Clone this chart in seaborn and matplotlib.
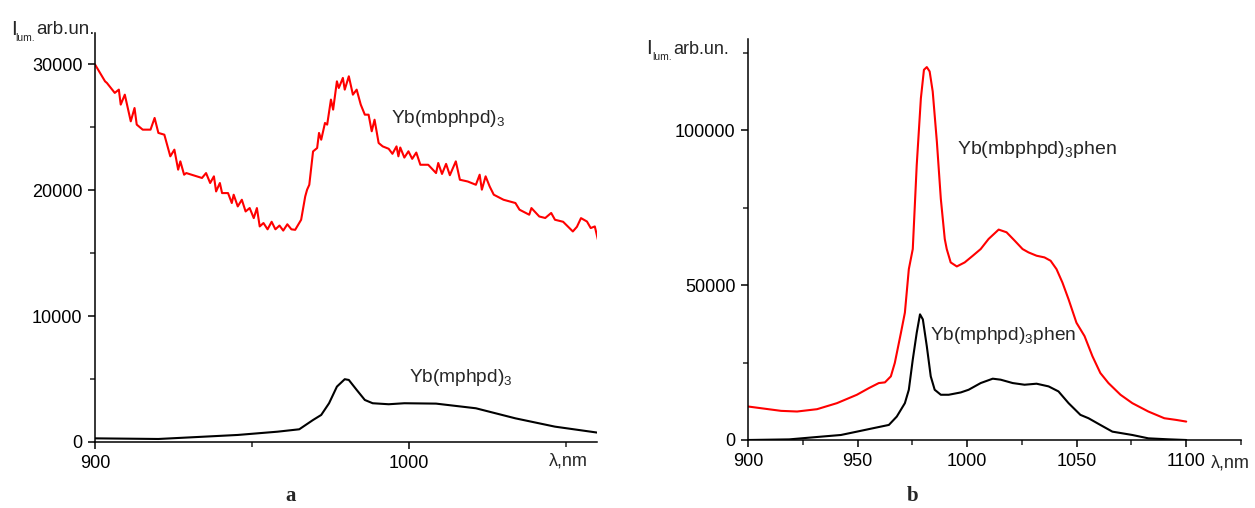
import numpy as np
import pandas as pd
import matplotlib
matplotlib.use("Agg")
import matplotlib.pyplot as plt
from matplotlib.ticker import FixedLocator
import seaborn as sns

# ---------------- data: panel a ----------------
a_red_nm = [900, 903.2, 903.8, 906.3, 907.6, 908.2, 909.5, 911.4, 912.6, 913.3, 915.2, 917.7, 919.0,
            920.2, 922.1, 924.0, 925.3, 926.5, 927.2, 928.4, 929.1, 934.1, 935.4, 936.7, 937.9, 938.6,
            939.8, 940.5, 942.4, 943.6, 944.2, 945.5, 946.8, 948.0, 949.3, 950.6, 951.6, 952.5, 953.7,
            955.0, 956.3, 957.5, 958.8, 960.0, 961.3, 962.6, 963.8, 965.7, 967.0, 967.6, 968.3, 969.5,
            970.8, 971.4, 972.1, 973.3, 974.0, 975.2, 975.9, 977.1, 977.7, 979.0, 979.6, 980.9, 982.2,
            983.4, 984.7, 986.0, 987.2, 988.2, 989.1, 990.4, 991.7, 993.6, 994.8, 996.1, 996.7, 997.3,
            998.6, 999.9, 1001.1, 1002.4, 1003.7, 1006.2, 1008.7, 1009.4, 1010.6, 1011.9, 1013.1, 1015.0,
            1016.3, 1018.8, 1021.4, 1022.6, 1023.3, 1024.5, 1025.8, 1027.1, 1030.2, 1034.0, 1035.3,
            1038.4, 1039.1, 1041.6, 1043.5, 1045.4, 1046.6, 1049.2, 1052.3, 1053.6, 1054.9, 1056.8,
            1058.0, 1059.3, 1060.3]
a_red_val = [30000, 28660, 28530, 27740, 28000, 26810, 27600, 25480, 26540, 25220, 24820, 24820, 25750,
             24560, 24420, 22700, 23230, 21640, 22300, 21240, 21370, 20980, 21370, 20580, 21110, 19910,
             20580, 19780, 19780, 18990, 19650, 18720, 19250, 18320, 18590, 17790, 18590, 17130, 17400,
             16900, 17500, 16900, 17200, 16800, 17300, 16900, 16860, 17660, 19510, 20050, 20440, 23090,
             23360, 24560, 24020, 25350, 25220, 27210, 26410, 28660, 28130, 28930, 28000, 29060, 27600,
             28000, 26810, 26010, 26010, 24690, 25610, 23760, 23490, 23300, 22900, 23490, 22700, 23400,
             22600, 23100, 22500, 23000, 22030, 22030, 21370, 22170, 21300, 22100, 21200, 22300,
             20840, 20700, 20440, 21240, 20050, 21110, 20300, 19650, 19250, 18990, 18460,
             18060, 18590, 17920, 17800, 18200, 17660, 17500, 16730, 17100, 17790, 17520,
             17000, 17130, 16070]

a_blk_nm = [900, 920.2, 932.9, 945.5, 958.2, 965.1, 969.5, 972.1, 974.6, 977.1, 979.6, 980.9, 983.4,
            986.0, 988.5, 993.6, 998.6, 1008.7, 1021.4, 1034.0, 1046.6, 1060.3]
a_blk_val = [290, 240, 400, 560, 820, 1010, 1750, 2150, 3080, 4400, 4990, 4930, 4140,
             3340, 3080, 3000, 3080, 3050, 2680, 1880, 1220, 740]

# ---------------- data: panel b ----------------
b_red_nm = [900, 915.1, 922.4, 931.5, 940.6, 949.7, 955.2, 959.7, 962.5, 965.2, 967.0, 969.8, 971.6,
            973.4, 975.2, 977.0, 978.9, 980.3, 981.6, 982.9, 984.3, 986.2, 988.0, 989.8, 990.7, 992.5,
            995.3, 998.9, 1002.6, 1006.2, 1009.8, 1014.4, 1018.0, 1021.7, 1025.3, 1028.0, 1031.7,
            1035.3, 1038.1, 1040.8, 1043.5, 1046.3, 1049.9, 1053.6, 1057.2, 1060.8, 1064.5, 1070.0,
            1075.4, 1082.7, 1090.0, 1095.4, 1100.0]
b_red_val = [10820, 9410, 9200, 9950, 11900, 14610, 16770, 18390, 18610, 20560, 24890, 34620, 41120,
             55180, 61670, 88720, 110360, 119560, 120430, 119020, 112530, 96300, 77900, 64920, 61670, 57350,
             56050, 57350, 59510, 61670, 64920, 67950, 67080, 64380, 61670, 60590, 59510,
             58970, 57890, 55180, 50850, 45440, 37870, 33540, 27050, 21640, 18390, 14610,
             11900, 9200, 7030, 6490, 5950]

b_blk_nm = [900, 918.8, 933.3, 942.4, 949.7, 957.0, 964.3, 967.9, 971.6, 973.4, 975.2, 977.0, 978.5,
            979.8, 981.6, 983.4, 985.2, 988.0, 991.6, 997.1, 1000.7, 1006.2, 1011.7, 1015.3, 1020.8,
            1026.2, 1031.7, 1037.2, 1041.7, 1046.3, 1051.7, 1055.4, 1060.8, 1066.3, 1075.4, 1082.7,
            1091.8, 1100.0]
b_blk_val = [0, 200, 1080, 1620, 2700, 3790, 4870, 7570, 11900, 16230, 25970, 34620, 40580,
             38950, 30300, 20560, 16230, 14610, 14610, 15360, 16230, 18390, 19800, 19480, 18390,
             17850, 18180, 17310, 15690, 11900, 8120, 7030, 4870, 2700, 1620, 540,
             220, 0]

a_xticks = [900, 1000]
a_xminor = [950, 1050]
a_yticks = [0, 10000, 20000, 30000]
a_yminor = [5000, 15000, 25000]
b_xticks = [900, 950, 1000, 1050, 1100]
b_xminor = [925, 975, 1025, 1075, 1125]
b_yticks = [0, 50000, 100000]
b_yminor = [25000, 75000, 125000]

# ---------------- style ----------------
sns.set_style("ticks")
plt.rcParams['font.family'] = ['Liberation Sans', 'DejaVu Sans']
plt.rcParams['mathtext.fontset'] = 'custom'
plt.rcParams['mathtext.rm'] = 'Liberation Sans'
plt.rcParams['mathtext.it'] = 'Liberation Sans'

W, H = 1255, 508
fig = plt.figure(figsize=(W / 100, H / 100), dpi=100)
fig.patch.set_facecolor('white')


def px_axes(x0, y0, x1, y1):
    return fig.add_axes([x0 / W, 1 - y1 / H, (x1 - x0) / W, (y1 - y0) / H])


axA = px_axes(95, 33, 597, 442)
axB = px_axes(748, 39, 1241, 440)

dfA_r = pd.DataFrame({'nm': a_red_nm, 'I': a_red_val})
dfA_k = pd.DataFrame({'nm': a_blk_nm, 'I': a_blk_val})
dfB_r = pd.DataFrame({'nm': b_red_nm, 'I': b_red_val})
dfB_k = pd.DataFrame({'nm': b_blk_nm, 'I': b_blk_val})

LW = 1.5
sns.lineplot(data=dfA_r, x='nm', y='I', ax=axA, color='#ff0000', lw=LW, sort=False, estimator=None)
sns.lineplot(data=dfA_k, x='nm', y='I', ax=axA, color='black', lw=LW, sort=False, estimator=None)
sns.lineplot(data=dfB_r, x='nm', y='I', ax=axB, color='#ff0000', lw=LW, sort=False, estimator=None)
sns.lineplot(data=dfB_k, x='nm', y='I', ax=axB, color='black', lw=LW, sort=False, estimator=None)

axA.set_xlim(900, 1060)
axA.set_ylim(0, 32500)
axB.set_xlim(900, 1125)
axB.set_ylim(0, 129500)

for ax, xt, xm, yt, ym in [(axA, a_xticks, a_xminor, a_yticks, a_yminor),
                           (axB, b_xticks, b_xminor, b_yticks, b_yminor)]:
    ax.set_xlabel('')
    ax.set_ylabel('')
    ax.xaxis.set_major_locator(FixedLocator(xt))
    ax.xaxis.set_minor_locator(FixedLocator(xm))
    ax.yaxis.set_major_locator(FixedLocator(yt))
    ax.yaxis.set_minor_locator(FixedLocator(ym))
    ax.set_xticklabels([str(v) for v in xt])
    ax.set_yticklabels([str(v) for v in yt])
    for s in ['top', 'right']:
        ax.spines[s].set_visible(False)
    for s in ['left', 'bottom']:
        ax.spines[s].set_linewidth(1.1)
        ax.spines[s].set_color('black')
    ax.tick_params(which='major', direction='out', length=5, width=1.1, labelsize=13, pad=4,
                   colors='black')
    ax.tick_params(which='minor', direction='out', length=3.5, width=1.1)
    ax.set_facecolor('none')
    ax.grid(False)

# curve labels
axA.text(994.3, 25700, r'Yb(mbphpd)$\mathregular{_3}$', fontsize=13.8, va='center', ha='left')
axA.text(1000, 5100, r'Yb(mphpd)$\mathregular{_3}$', fontsize=13.8, va='center', ha='left')
axB.text(995.4, 93700, r'Yb(mbphpd)$\mathregular{_3}$phen', fontsize=14, va='center', ha='left')
axB.text(982.9, 33900, r'Yb(mphpd)$\mathregular{_3}$phen', fontsize=13.8, va='center', ha='left')


def ftext(x, y, s, **kw):
    fig.text(x / W, 1 - y / H, s, **kw)


# y-axis titles
for (xi, yi, xl, yl, xa, ya, fa) in [(11.5, 35, 15.5, 41, 36, 34.5, 13.5),
                                      (646.5, 53.5, 652, 60.5, 673, 54.5, 13)]:
    ftext(xi, yi, 'I', fontsize=15, va='baseline', ha='left')
    ftext(xl, yl, 'lum.', fontsize=7.5, va='baseline', ha='left')
    ftext(xa, ya, 'arb.un.', fontsize=fa, va='baseline', ha='left')

# x-axis titles
ftext(549, 466, 'λ,nm', fontsize=13, va='baseline', ha='left')
ftext(1211, 467, 'λ,nm', fontsize=13, va='baseline', ha='left')

# panel letters
ftext(291, 501, 'a', fontsize=15, fontweight='bold', family='Liberation Serif', va='baseline', ha='center')
ftext(913, 501, 'b', fontsize=15, fontweight='bold', family='Liberation Serif', va='baseline', ha='center')

fig.savefig('out.png', dpi=100, facecolor='white')
